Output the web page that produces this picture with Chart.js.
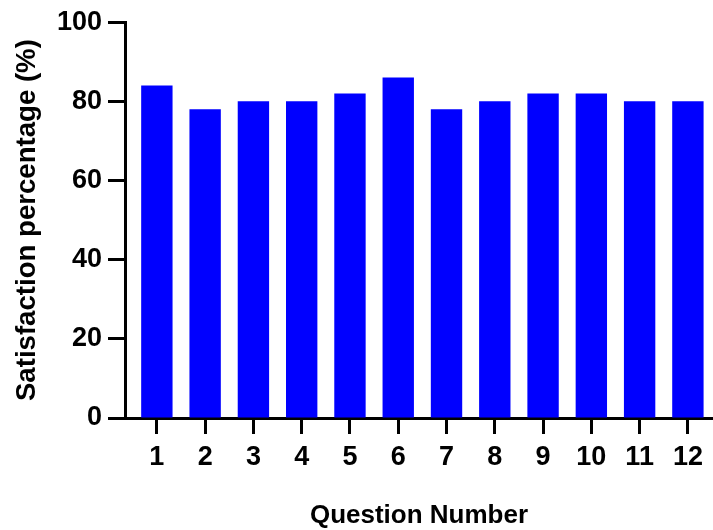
<!DOCTYPE html>
<html>
<head>
<meta charset="utf-8">
<script src="https://cdn.jsdelivr.net/npm/chart.js@4/dist/chart.umd.min.js"></script>
<style>
html,body{margin:0;padding:0;background:#fff;}
#wrap{width:713px;height:530px;}
</style>
</head>
<body>
<div id="wrap"><canvas id="c" width="713" height="530"></canvas></div>
<script>
const questions = [1, 2, 3, 4, 5, 6, 7, 8, 9, 10, 11, 12];
const satisfaction = [84, 78, 80, 80, 82, 86, 78, 80, 82, 82, 80, 80];
const yTicks = [0, 20, 40, 60, 80, 100];

const FONT = "'Liberation Sans', Arial, Helvetica, sans-serif";

new Chart(document.getElementById('c'), {
  type: 'bar',
  data: {
    datasets: [{
      data: questions.map((q, i) => ({x: q, y: satisfaction[i]})),
      backgroundColor: '#0000FF',
      borderWidth: 0,
      categoryPercentage: 1,
      barPercentage: 0.65
    }]
  },
  options: {
    responsive: false,
    animation: false,
    devicePixelRatio: 1,
    layout: {padding: {top: 22, right: 0, bottom: 0, left: 0}},
    plugins: {legend: {display: false}, tooltip: {enabled: false}},
    scales: {
      x: {
        type: 'linear',
        offset: false,
        min: 0.34,
        max: 12.52,
        afterBuildTicks: (s) => { s.ticks = questions.map(v => ({value: v})); },
        afterFit: (s) => { s.height = 112; },
        grid: {offset: false, drawOnChartArea: false, drawTicks: true, tickLength: 16, tickWidth: 3, tickColor: '#000'},
        border: {display: true, width: 3, color: '#000'},
        ticks: {color: '#000', padding: 7, font: {family: FONT, size: 27, weight: 'bold'}, maxRotation: 0, autoSkip: false},
        title: {display: true, text: 'Question Number', color: '#000', font: {family: FONT, size: 26, weight: 'bold', lineHeight: 1}, padding: {top: 0, bottom: 1}}
      },
      y: {
        min: 0,
        max: 100,
        afterBuildTicks: (s) => { s.ticks = yTicks.map(v => ({value: v})); },
        afterFit: (s) => { s.width = 125; },
        grid: {drawOnChartArea: false, drawTicks: true, tickLength: 17, tickWidth: 3, tickColor: '#000'},
        border: {display: true, width: 3, color: '#000'},
        ticks: {color: '#000', padding: 6, font: {family: FONT, size: 27, weight: 'bold'}},
        title: {display: true, text: 'Satisfaction percentage (%)', color: '#000', font: {family: FONT, size: 27.6, weight: 'bold', lineHeight: 1}, padding: {top: 14, bottom: 0}}
      }
    }
  }
});
</script>
</body>
</html>
